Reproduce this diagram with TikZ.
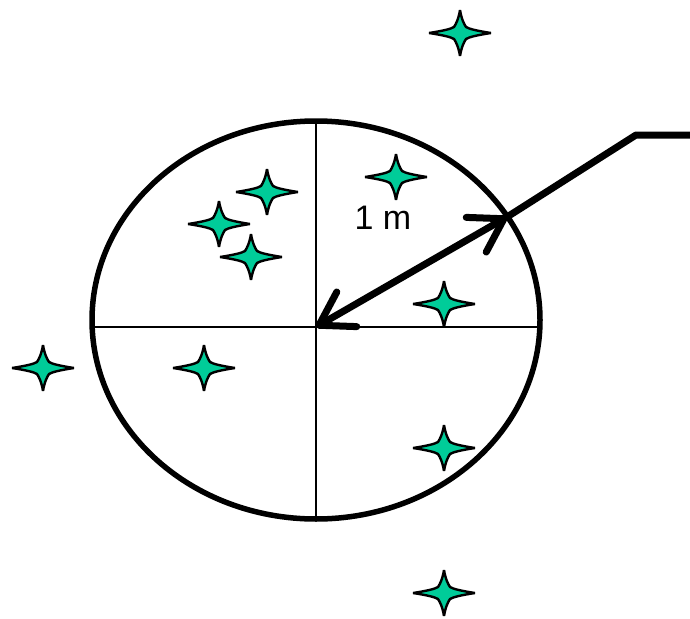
\documentclass[tikz,border=0pt]{standalone}
\usepackage{fontspec}
\setmainfont{Liberation Sans}
\usetikzlibrary{arrows.meta}
\definecolor{sparkfill}{RGB}{0,204,153}
\tikzset{
  rim/.style={line width=5.5pt},
  cross/.style={line width=2pt},
  pointer/.style={line width=7pt, line cap=round, line join=round},
  pics/sparkle/.style={code={
    \filldraw[fill=sparkfill, draw=black, line width=2.4pt, line join=miter, miter limit=4]
      (31,0) .. controls (18,-2) and (9,-4) .. (6,-6)
      .. controls (4,-9) and (1.5,-14) .. (0,-23)
      .. controls (-1.5,-14) and (-4,-9) .. (-6,-6)
      .. controls (-9,-4) and (-18,-2) .. (-31,0)
      .. controls (-18,2) and (-9,4) .. (-6,6)
      .. controls (-4,9) and (-1.5,14) .. (0,23)
      .. controls (1.5,14) and (4,9) .. (6,6)
      .. controls (9,4) and (18,2) .. cycle;
  }}
}
\begin{document}
\begin{tikzpicture}[x=1pt,y=-1pt]
\useasboundingbox (0,0) rectangle (690,618);
\coordinate (o) at (316,320);
\coordinate (c) at (316,327);
\coordinate (top) at (316,121);
\coordinate (bot) at (316,519);
\coordinate (lft) at (92,327);
\coordinate (rgt) at (540,327);
\coordinate (e) at (507,217);
\coordinate (k) at (636,135);
\coordinate (r) at (690,135);
\draw[cross] (top) -- (bot);
\draw[cross] (lft) -- (rgt);
\draw[rim] (o) ellipse [x radius=224, y radius=199];
\pic at (460,33) {sparkle};
\pic at (396,177) {sparkle};
\pic at (267,192) {sparkle};
\pic at (219,224) {sparkle};
\pic at (251,257) {sparkle};
\pic at (444,304) {sparkle};
\pic at (43,368) {sparkle};
\pic at (204,368) {sparkle};
\pic at (444,448) {sparkle};
\pic at (444,593) {sparkle};
\draw[pointer, {Straight Barb[length=32pt,width=40pt,round]}-{Straight Barb[length=32pt,width=40pt,round]}] (c) -- (e);
\draw[pointer, line cap=butt] (e) -- (k) -- (r);
\node (lbl) at (383,218) {\fontsize{34pt}{40pt}\selectfont 1 m};
\end{tikzpicture}
\end{document}
